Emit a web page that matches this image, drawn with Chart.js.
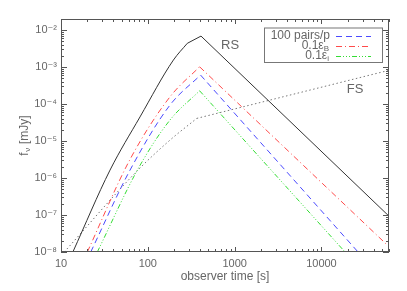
<!DOCTYPE html>
<html><head><meta charset="utf-8">
<script src="https://cdn.jsdelivr.net/npm/chart.js@4/dist/chart.umd.min.js"></script>
<style>html,body{margin:0;padding:0;background:#fff;}#wrap{width:407px;height:291px;position:relative;}</style>
</head><body><div id="wrap"><canvas id="c"></canvas></div>
<script>
// ---- data ----
const xTickValues = [10, 100, 1000, 10000];
const yTickValues = [1e-8, 1e-7, 1e-6, 1e-5, 1e-4, 1e-3, 1e-2];
const xMin = 10, xMax = 6e4, yMin = 1e-8, yMax = 2e-2;

const rsTime = [13.7, 36.7, 81.3, 197, 285, 410, 60000];
const rsFlux = [1e-8, 1.64e-6, 4.5e-5, 1.55e-3, 4.4e-3, 6.9e-3, 9.3e-8];
const rsBreak = 4;

const pairsTime = [22, 62.4, 180, 405, 26400];
const pairsFlux = [1e-8, 1.64e-6, 9.4e-5, 6.1e-4, 1e-8];
const pairsBreak = 3;

const epsBTime = [20.1, 61.8, 180, 395, 60000];
const epsBFlux = [1e-8, 3.06e-6, 1.57e-4, 1.02e-3, 1.39e-8];
const epsBBreak = 3;

const epsETime = [26.2, 77.8, 180, 395, 18700];
const epsEFlux = [1e-8, 1.83e-6, 3.7e-5, 2.29e-4, 1e-8];
const epsEBreak = 3;

const fsTime = [10.9, 77, 180, 366, 60000];
const fsFlux = [1e-8, 1.64e-6, 1.06e-5, 4.1e-5, 8.2e-4];
const fsBreak = 3;

const legendMain = ['100 pairs/p', '0.1\u03B5', '0.1\u03B5'];
const legendSub = ['', 'B', 'i'];
const curveLabels = ['RS', 'FS'];
const curveLabelAt = [[885, 3.9e-3], [2.44e4, 2.5e-4]];
const xTitle = 'observer time [s]';
const yTitleMain = 'f', yTitleSub = '\u03BD', yTitleUnit = ' [mJy]';

// ---- helpers ----
const FONT = '"Liberation Sans", "DejaVu Sans", Arial, sans-serif';
const TXT = '#666';
const sup = {'-':'\u207B','0':'\u2070','1':'\u00B9','2':'\u00B2','3':'\u00B3','4':'\u2074','5':'\u2075','6':'\u2076','7':'\u2077','8':'\u2078','9':'\u2079'};
function pts(t, f){ return t.map((v,i)=>({x:v, y:f[i]})); }
// rising part drawn as a smooth (monotone) curve, later part as straight segments
function series(label, t, f, brk, style, legend){
  const p = pts(t, f);
  const base = Object.assign({label, pointRadius:0, fill:false, borderWidth:1}, style);
  return [
    Object.assign({}, base, {data:p.slice(0, brk+1), cubicInterpolationMode:'monotone', legend}),
    Object.assign({}, base, {data:p.slice(brk), tension:0})
  ];
}

const datasets = [].concat(
  series('RS', rsTime, rsFlux, rsBreak, {borderColor:'#333'}),
  series(legendMain[0], pairsTime, pairsFlux, pairsBreak, {borderColor:'#4a4aff', borderDash:[6,4]}, 0),
  series(legendMain[1]+legendSub[1], epsBTime, epsBFlux, epsBBreak, {borderColor:'#ff4a4a', borderDash:[6,3,1,3]}, 1),
  series(legendMain[2]+legendSub[2], epsETime, epsEFlux, epsEBreak, {borderColor:'#33dd33', borderDash:[5,2,1,2,1,2,1,2]}, 2),
  series('FS', fsTime, fsFlux, fsBreak, {borderColor:'#777', borderDash:[1.5,2.5]})
);

const decorPlugin = {
  id:'decor',
  afterDraw(chart){
    const {ctx, chartArea:a, scales:{x, y}} = chart;
    ctx.save();
    ctx.strokeStyle = '#555'; ctx.lineWidth = 1;
    ctx.strokeRect(a.left+0.5, a.top+0.5, a.right-a.left-1, a.bottom-a.top-1);
    ctx.beginPath();
    for (let d = 10; d <= xMax; d *= 10) {
      for (let m = 1; m <= 9; m++) {
        const v = m*d; if (v < xMin || v > xMax*1.0001) continue;
        const px = Math.round(x.getPixelForValue(v)) + 0.5;
        const len = m === 1 ? 5 : 3;
        ctx.moveTo(px, a.bottom); ctx.lineTo(px, a.bottom - len);
        ctx.moveTo(px, a.top); ctx.lineTo(px, a.top + len);
      }
    }
    for (let d = 1e-8; d < yMax; d *= 10) {
      for (let m = 1; m <= 9; m++) {
        const v = m*d; if (v < yMin*0.9999 || v > yMax*0.9999) continue;
        const py = Math.round(y.getPixelForValue(v)) + 0.5;
        const len = m === 1 ? 6 : 3;
        ctx.moveTo(a.left, py); ctx.lineTo(a.left + len, py);
        ctx.moveTo(a.right, py); ctx.lineTo(a.right - len, py);
      }
    }
    ctx.stroke();

    ctx.fillStyle = TXT; ctx.font = '13px ' + FONT;
    ctx.textAlign = 'center'; ctx.textBaseline = 'middle';
    curveLabels.forEach((s,i)=>{
      ctx.fillText(s, x.getPixelForValue(curveLabelAt[i][0]), y.getPixelForValue(curveLabelAt[i][1]));
    });

    const bx = 264, by = 27.5, bw = 118, bh = 34.5;
    ctx.fillStyle = '#fff'; ctx.fillRect(bx, by, bw, bh);
    ctx.strokeStyle = '#777'; ctx.strokeRect(bx+0.5, by+0.5, bw, bh);
    const rowY = [36, 46, 56];
    const textRight = 330, lineX0 = 336, lineX1 = 371;
    chart.data.datasets.forEach(ds=>{
      if (ds.legend === undefined) return;
      const i = ds.legend, yy = rowY[i];
      ctx.font = '8px ' + FONT;
      const ws = legendSub[i] ? ctx.measureText(legendSub[i]).width + 1 : 0;
      ctx.font = '12px ' + FONT; ctx.fillStyle = TXT;
      ctx.textAlign = 'right'; ctx.textBaseline = 'middle';
      ctx.fillText(legendMain[i], textRight - ws, yy);
      if (legendSub[i]) {
        ctx.font = '8px ' + FONT; ctx.textAlign = 'left';
        ctx.fillText(legendSub[i], textRight - ws, yy + 3);
      }
      ctx.save();
      ctx.strokeStyle = ds.borderColor; ctx.setLineDash(ds.borderDash || []);
      ctx.beginPath(); ctx.moveTo(lineX0, yy + 0.5); ctx.lineTo(lineX1, yy + 0.5); ctx.stroke();
      ctx.restore();
    });

    ctx.save();
    ctx.translate(25, (a.top + a.bottom)/2);
    ctx.rotate(-Math.PI/2);
    ctx.fillStyle = TXT; ctx.textAlign = 'left'; ctx.textBaseline = 'middle';
    ctx.font = '12px ' + FONT; const w1 = ctx.measureText(yTitleMain).width, w3 = ctx.measureText(yTitleUnit).width;
    ctx.font = '8px ' + FONT; const w2 = ctx.measureText(yTitleSub).width + 1;
    let x0 = -(w1 + w2 + w3)/2;
    ctx.font = '12px ' + FONT; ctx.fillText(yTitleMain, x0, 0);
    ctx.font = '8px ' + FONT; ctx.fillText(yTitleSub, x0 + w1 + 0.5, 3);
    ctx.font = '12px ' + FONT; ctx.fillText(yTitleUnit, x0 + w1 + w2, 0);
    ctx.restore();
    ctx.restore();
  }
};

new Chart(document.getElementById('c'), {
  type:'line',
  data:{datasets},
  options:{
    responsive:true, maintainAspectRatio:false, animation:false,
    layout:{padding:{top:19, right:18, left:0, bottom:0}},
    plugins:{legend:{display:false}, tooltip:{enabled:false}},
    scales:{
      x:{type:'logarithmic', min:xMin, max:xMax,
        grid:{display:false, drawTicks:false}, border:{display:false},
        afterBuildTicks:s=>{ s.ticks = xTickValues.map(v=>({value:v})); },
        afterFit:s=>{ s.height = 39; },
        ticks:{autoSkip:false, maxRotation:0, padding:5, color:TXT, font:{family:FONT, size:11},
          callback:v=>String(v)},
        title:{display:true, text:xTitle, color:TXT, font:{family:FONT, size:12}, padding:{top:0, bottom:7}}
      },
      y:{type:'logarithmic', min:yMin, max:yMax,
        grid:{display:false, drawTicks:false}, border:{display:false},
        afterBuildTicks:s=>{ s.ticks = yTickValues.map(v=>({value:v})); },
        afterFit:s=>{ s.width = 61; },
        ticks:{autoSkip:false, padding:4, color:TXT, font:{family:FONT, size:11},
          callback:v=>{ const e = Math.round(Math.log10(v)); return '10' + String(e).split('').map(c=>sup[c]).join(''); }}
      }
    }
  },
  plugins:[decorPlugin]
});
</script>
</body></html>
